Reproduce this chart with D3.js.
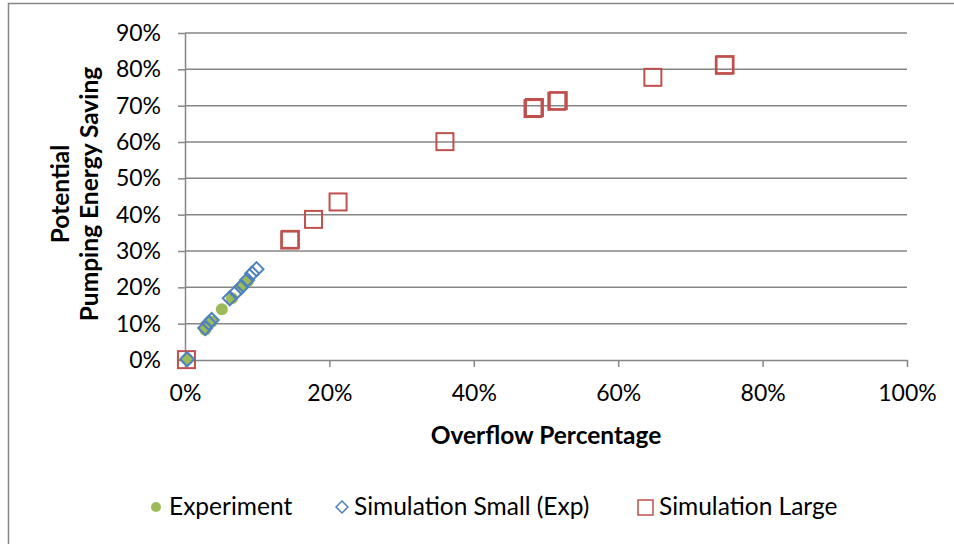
<!DOCTYPE html>
<html>
<head>
<meta charset="utf-8">
<script src="https://cdn.jsdelivr.net/npm/d3@7"></script>
<style>
  body { margin: 0; background: #fff; }
  svg { font-family: Lato, "Open Sans", sans-serif; }
</style>
</head>
<body>
<svg width="954" height="544"></svg>
<script>
// данные (доли, 0..1)
const experimentX = [0.003, 0.028, 0.037, 0.051, 0.065, 0.079, 0.087];
const experimentY = [0.002, 0.083, 0.105, 0.140, 0.170, 0.204, 0.217];

const smallX = [0.003, 0.028, 0.033, 0.037, 0.062, 0.071, 0.078, 0.086, 0.093, 0.099];
const smallY = [0.002, 0.088, 0.102, 0.110, 0.170, 0.187, 0.201, 0.220, 0.238, 0.250];

const largeX = [0.002, 0.145, 0.146, 0.178, 0.212, 0.360, 0.482, 0.484, 0.515, 0.517, 0.648, 0.747, 0.748];
const largeY = [0.001, 0.330, 0.332, 0.387, 0.435, 0.601, 0.692, 0.695, 0.712, 0.714, 0.778, 0.811, 0.813];

const xTicks = [0, 0.2, 0.4, 0.6, 0.8, 1.0];
const yTicks = [0, 0.1, 0.2, 0.3, 0.4, 0.5, 0.6, 0.7, 0.8, 0.9];

const seriesNames = ["Experiment", "Simulation Small (Exp)", "Simulation Large"];

const green = "#9bbb59", blue = "#4f81bd", red = "#c0504d", grid = "#868686";

let svg = d3.select("svg");

attr_area = { left: 185, right: 907, top: 33, bottom: 360 };

// рамка диаграммы (правый и нижний край за пределами картинки)
svg.append("rect")
    .attr("x", 8.5).attr("y", 3.5)
    .attr("width", 1000).attr("height", 600)
    .attr("fill", "none").attr("stroke", grid).attr("stroke-width", 1.5);

let scaleX = d3.scaleLinear().domain([0, 1]).range([attr_area.left, attr_area.right]);
let scaleY = d3.scaleLinear().domain([0, 0.9]).range([attr_area.bottom, attr_area.top]);

// сетка
svg.append("g")
    .selectAll("line")
    .data(yTicks.slice(1))
    .enter()
    .append("line")
    .attr("x1", attr_area.left).attr("x2", attr_area.right)
    .attr("y1", d => scaleY(d)).attr("y2", d => scaleY(d))
    .attr("stroke", grid).attr("stroke-width", 1.5);

// оси
let axisX = d3.axisBottom(scaleX).tickValues(xTicks).tickFormat(d3.format(".0%")).tickSize(7).tickSizeOuter(0).tickPadding(18);
let axisY = d3.axisLeft(scaleY).tickValues(yTicks).tickFormat(d3.format(".0%")).tickSize(7).tickSizeOuter(0).tickPadding(17);

let gx = svg.append("g")
    .attr("transform", `translate(0, ${attr_area.bottom})`)
    .call(axisX);
let gy = svg.append("g")
    .attr("transform", `translate(${attr_area.left}, 0)`)
    .call(axisY);

[gx, gy].forEach(g => {
    g.selectAll("path, line").attr("stroke", grid).attr("stroke-width", 1.5);
    g.selectAll("text").attr("fill", "#000").style("font-size", "23px").style("font-family", "Lato, sans-serif");
});

// подписи осей
svg.append("text")
    .attr("x", 546).attr("y", 444)
    .attr("text-anchor", "middle")
    .style("font-size", "24.5px").style("font-weight", "bold")
    .text("Overflow Percentage");

let yTitle = svg.append("text")
    .attr("transform", "translate(0, 194) rotate(-90)")
    .attr("text-anchor", "middle")
    .style("font-size", "24.5px").style("font-weight", "bold");
yTitle.append("tspan").attr("x", 0).attr("y", 69).text("Potential");
yTitle.append("tspan").attr("x", 0).attr("y", 98).text("Pumping Energy Saving");

// точки
function pairs(xs, ys) { return xs.map((x, i) => ({ x: x, y: ys[i] })); }

svg.append("g")
    .selectAll("rect")
    .data(pairs(largeX, largeY))
    .enter()
    .append("rect")
    .attr("x", d => scaleX(d.x) - 8.5).attr("y", d => scaleY(d.y) - 8.5)
    .attr("width", 17).attr("height", 17)
    .attr("fill", "none").attr("stroke", red).attr("stroke-width", 2);

svg.append("g")
    .selectAll("circle")
    .data(pairs(experimentX, experimentY))
    .enter()
    .append("circle")
    .attr("cx", d => scaleX(d.x)).attr("cy", d => scaleY(d.y))
    .attr("r", 6)
    .attr("fill", green);

svg.append("g")
    .selectAll("path")
    .data(pairs(smallX, smallY))
    .enter()
    .append("path")
    .attr("d", d3.symbol(d3.symbolDiamond2, 125))
    .attr("transform", d => `translate(${scaleX(d.x)}, ${scaleY(d.y)})`)
    .attr("fill", "none").attr("stroke", blue).attr("stroke-width", 2);

// легенда
let leg = svg.append("g").style("font-size", "24.5px");
leg.append("circle").attr("cx", 156).attr("cy", 507).attr("r", 5).attr("fill", green);
leg.append("text").attr("x", 169).attr("y", 515).text(seriesNames[0]);
leg.append("path").attr("d", d3.symbol(d3.symbolDiamond2, 90))
    .attr("transform", "translate(342, 507)")
    .attr("fill", "none").attr("stroke", blue).attr("stroke-width", 1.5);
leg.append("text").attr("x", 354).attr("y", 515).text(seriesNames[1]);
leg.append("rect").attr("x", 638).attr("y", 500).attr("width", 15).attr("height", 15)
    .attr("fill", "none").attr("stroke", red).attr("stroke-width", 1.5);
leg.append("text").attr("x", 659).attr("y", 515).text(seriesNames[2]);
</script>
</body>
</html>
